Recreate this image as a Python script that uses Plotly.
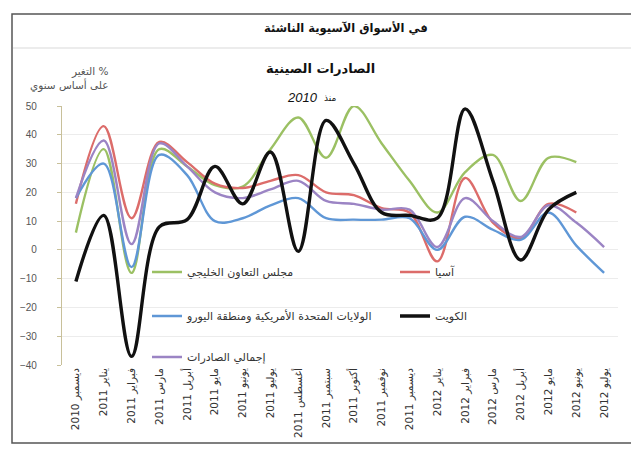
import plotly.graph_objects as go

months = ["ديسمبر 2010", "يناير 2011", "فبراير 2011", "مارس 2011", "أبريل 2011",
          "مايو 2011", "يونيو 2011", "يوليو 2011", "أغسطس 2011", "سبتمبر 2011",
          "أكتوبر 2011", "نوفمبر 2011", "ديسمبر 2011", "يناير 2012", "فبراير 2012",
          "مارس 2012", "أبريل 2012", "مايو 2012", "يونيو 2012", "يوليو 2012"]

gcc = [6, 35, -8, 35, 29, 22.5, 22, 35, 46, 32, 50, 37, 24, 13, 27, 33, 17, 32, 30.5]
asia = [16, 43, 11, 37.5, 30.5, 23, 21.5, 24, 26, 20, 19, 14.5, 13, -4, 25, 9.5, 4, 16, 13]
us_eu = [18, 30, -6, 33, 26, 10, 11, 15.5, 18, 11, 10.5, 10.5, 11, 0, 11.5, 7, 3.5, 13, 1.5, -8]
kuwait = [-11, 12, -37, 8, 10.5, 29, 16, 34, -0.5, 45, 30, 13, 12, 11, 49, 24, -3.5, 14, 20]
total = [18, 38, 2, 37, 29, 20, 18, 21, 24, 17, 16, 14, 14, 1, 18, 10, 4.5, 15.5, 9.5, 1]

names = {
    "gcc": "مجلس التعاون الخليجي",
    "asia": "آسيا",
    "us_eu": "الولايات المتحدة الأمريكية ومنطقة اليورو",
    "kuwait": "الكويت",
    "total": "إجمالي الصادرات",
}

y_ticks = [-40, -30, -20, -10, 0, 10, 20, 30, 40, 50]

FONT = "Liberation Sans, Arial, DejaVu Sans, sans-serif"
AR = "DejaVu Sans, Liberation Sans, sans-serif"

# page body has an 8px margin; figure drawn in its own coordinates
W, H = 631, 446
L, R, T, B = 54, 21, 98, 89
PW, PH = W - L - R, H - T - B


def px2x(px):
    return (px - L) / PW


def py2y(py):
    return (H - B - py) / PH


idx = list(range(len(months)))

fig = go.Figure()


def add(vals, name, color, width, legend):
    fig.add_trace(go.Scatter(
        x=idx[:len(vals)], y=vals, name=name, mode="lines",
        line=dict(color=color, width=width, shape="spline", smoothing=1.0),
        legend=legend, hoverinfo="skip"))


add(gcc, names["gcc"], "#9bc063", 2.4, "legend")
add(asia, names["asia"], "#dc6c6a", 2.4, "legend2")
add(us_eu, names["us_eu"], "#5f97d6", 2.4, "legend3")
add(total, names["total"], "#9b84c4", 2.4, "legend5")
add(kuwait, names["kuwait"], "#111111", 3.4, "legend4")

tan = "#c8c09a"


def leg(px, py):
    return dict(x=px2x(px), y=py2y(py), xanchor="left", yanchor="middle",
                orientation="v", bgcolor="rgba(255,255,255,0)",
                font=dict(family=AR, size=11, color="#333"), itemwidth=30)


fig.update_layout(
    width=W, height=H,
    margin=dict(l=L, r=R, t=T, b=B),
    paper_bgcolor="white", plot_bgcolor="white",
    showlegend=True,
    legend=leg(139, 264),
    legend2=leg(387, 264),
    legend3=leg(139, 308),
    legend4=leg(387, 308),
    legend5=leg(139, 349),
    xaxis=dict(range=[-0.5, len(months) - 0.5], tickmode="array", tickvals=idx, ticktext=months,
               tickangle=-90, showgrid=False, zeroline=False, showline=False, ticks="",
               tickfont=dict(family=AR, size=10.5, color="#333")),
    xaxis2=dict(overlaying="x", anchor="free", position=40 / 90, range=[-0.5, len(months) - 0.5],
                tickmode="linear", tick0=0.5, dtick=1, ticks="inside", ticklen=3, tickcolor=tan,
                showticklabels=False, showline=True, linecolor=tan, linewidth=1.5,
                showgrid=False, zeroline=False, side="bottom"),
    yaxis=dict(range=[-40, 50], tickvals=y_ticks, showgrid=True, gridcolor="#ececec", gridwidth=1,
               zeroline=False, showline=True, linecolor=tan, linewidth=1.2, ticks="outside",
               ticklen=4, tickcolor=tan, ticklabelstandoff=18,
               tickfont=dict(family=FONT, size=10, color="#555")),
)

# frame and header
fig.add_shape(type="rect", xref="paper", yref="paper",
              x0=px2x(4), x1=px2x(626), y0=py2y(435), y1=py2y(6),
              line=dict(color="#555", width=1.5), fillcolor="rgba(0,0,0,0)", layer="below")
fig.add_shape(type="line", xref="paper", yref="paper",
              x0=px2x(5), x1=px2x(625), y0=py2y(40), y1=py2y(40),
              line=dict(color="#e6e6e6", width=1.5))


def ann(text, px, py, size, color="#111", xanchor="center", align="center", family=AR):
    fig.add_annotation(text=text, xref="paper", yref="paper",
                       x=px2x(px), y=py2y(py), showarrow=False,
                       xanchor=xanchor, yanchor="middle", align=align,
                       font=dict(family=family, size=size, color=color))


ann("<b>في الأسواق الآسيوية الناشئة</b>", 338, 21, 11.5)
ann("<b>الصادرات الصينية</b>", 312, 60, 13)
ann("<i>2010</i>", 294, 89, 13, family=FONT)
ann("منذ", 322, 90, 9)
ann("التغير %<br>على أساس سنوي", 103, 70, 10.5, color="#555", xanchor="right", align="right")

fig.write_html("out.html")
